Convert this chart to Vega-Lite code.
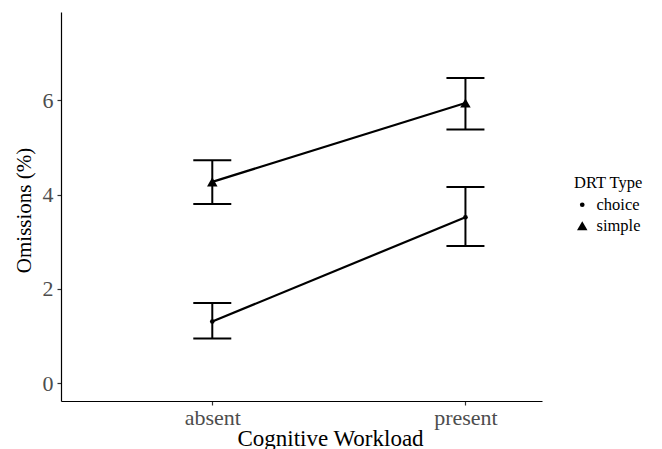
{
  "$schema": "https://vega.github.io/schema/vega-lite/v6.json",
  "width": 481,
  "height": 389,
  "autosize": {"type": "none"},
  "padding": {"left": 61, "top": 12, "right": 120, "bottom": 48},
  "background": "white",
  "config": {
    "view": {"stroke": null},
    "font": "Times New Roman, Liberation Serif, serif",
    "axis": {
      "grid": false,
      "domainColor": "black",
      "domainWidth": 1.2,
      "tickColor": "#333333",
      "tickSize": 4,
      "tickWidth": 1.2,
      "labelFont": "Times New Roman, Liberation Serif, serif",
      "labelFontSize": 22,
      "labelColor": "#4d4d4d",
      "titleFont": "Times New Roman, Liberation Serif, serif",
      "titleFontSize": 22,
      "titleFontWeight": "normal",
      "titleColor": "black"
    },
    "legend": {
      "titleFont": "Times New Roman, Liberation Serif, serif",
      "titleFontSize": 16.5,
      "titleFontWeight": "normal",
      "titleColor": "black",
      "labelFont": "Times New Roman, Liberation Serif, serif",
      "labelFontSize": 16.5,
      "labelColor": "black"
    }
  },
  "data": {
    "values": [
      {"workload": "absent", "drt": "choice", "mean": 1.31, "lo": 0.95, "hi": 1.70},
      {"workload": "present", "drt": "choice", "mean": 3.52, "lo": 2.91, "hi": 4.16},
      {"workload": "absent", "drt": "simple", "mean": 4.27, "lo": 3.80, "hi": 4.73},
      {"workload": "present", "drt": "simple", "mean": 5.94, "lo": 5.38, "hi": 6.47}
    ]
  },
  "encoding": {
    "x": {
      "field": "workload",
      "type": "nominal",
      "scale": {"type": "point", "padding": 0.45, "align": 0.664},
      "axis": {"title": "Cognitive Workload", "titleFontSize": 23, "labelAngle": 0, "labelPadding": 2, "titlePadding": -1, "titleX": 269}
    }
  },
  "layer": [
    {
      "mark": {"type": "rule", "color": "black", "strokeWidth": 2},
      "encoding": {
        "y": {"field": "lo", "type": "quantitative"},
        "y2": {"field": "hi"}
      }
    },
    {
      "mark": {"type": "tick", "color": "black", "size": 38, "thickness": 2, "opacity": 1},
      "encoding": {"y": {"field": "lo", "type": "quantitative"}}
    },
    {
      "mark": {"type": "tick", "color": "black", "size": 38, "thickness": 2, "opacity": 1},
      "encoding": {"y": {"field": "hi", "type": "quantitative"}}
    },
    {
      "mark": {"type": "line", "color": "black", "strokeWidth": 2.2},
      "encoding": {
        "y": {"field": "mean", "type": "quantitative"},
        "detail": {"field": "drt", "type": "nominal"}
      }
    },
    {
      "mark": {"type": "point", "filled": true, "color": "black", "opacity": 1},
      "encoding": {
        "y": {
          "field": "mean",
          "type": "quantitative",
          "scale": {"domain": [-0.375, 7.87], "nice": false, "zero": false},
          "axis": {"title": "Omissions (%)", "titleFontSize": 21, "values": [0, 2, 4, 6], "labelPadding": 4, "titleY": 198, "titleX": -27, "titleBaseline": "bottom"}
        },
        "shape": {
          "field": "drt",
          "type": "nominal",
          "title": "DRT Type",
          "scale": {"domain": ["choice", "simple"], "range": ["circle", "triangle-up"]},
          "legend": {"orient": "none", "legendX": 513, "legendY": 163, "symbolFillColor": "black", "symbolStrokeWidth": 0, "labelOffset": 6, "rowPadding": 4}
        },
        "size": {
          "field": "drt",
          "type": "nominal",
          "title": "DRT Type",
          "scale": {"domain": ["choice", "simple"], "range": [22, 110]}
        }
      }
    }
  ]
}
